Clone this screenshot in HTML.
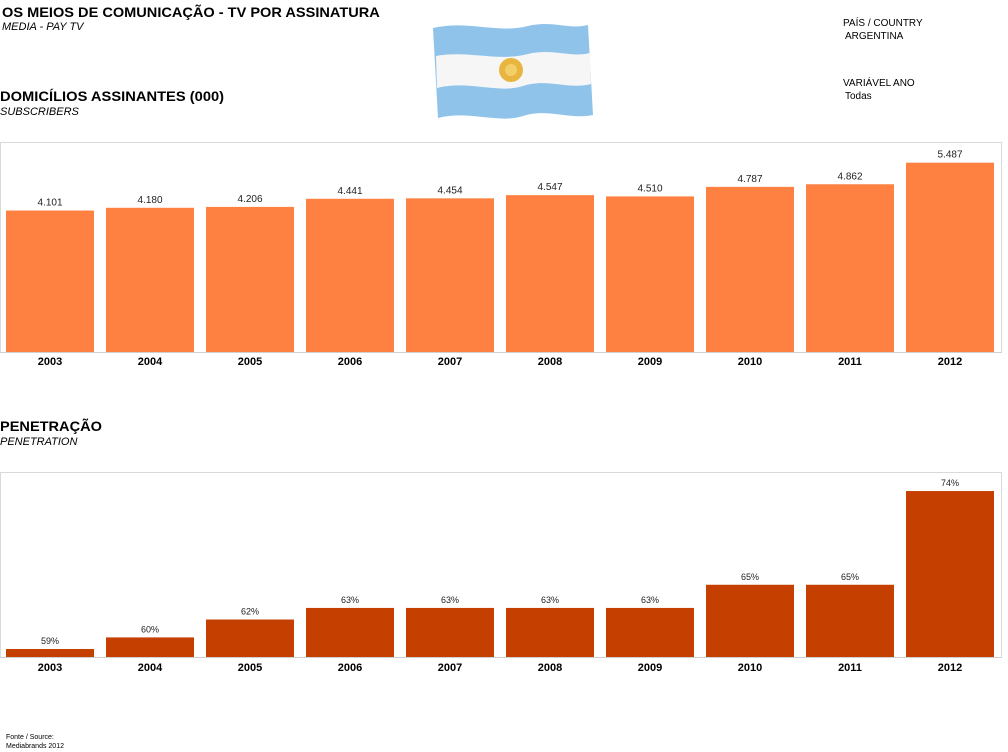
<!DOCTYPE html>
<html><head><meta charset="utf-8"><style>
body{margin:0;width:1008px;height:752px;background:#fff;font-family:"Liberation Sans","DejaVu Sans",sans-serif;overflow:hidden;position:relative}
.t{position:absolute;white-space:nowrap;color:#000}
</style></head><body>
<div class="t" style="left:2px;top:4px;font-size:14px;font-weight:bold;transform:scaleX(1.04);transform-origin:left">OS MEIOS DE COMUNICAÇÃO - TV POR ASSINATURA</div>
<div class="t" style="left:2px;top:21px;font-size:11px;font-style:italic">MEDIA - PAY TV</div>
<div class="t" style="left:0px;top:88px;font-size:14px;font-weight:bold;transform:scaleX(1.05);transform-origin:left">DOMICÍLIOS ASSINANTES (000)</div>
<div class="t" style="left:0px;top:106px;font-size:11px;font-style:italic">SUBSCRIBERS</div>
<div class="t" style="left:843px;top:18px;font-size:10px">PAÍS / COUNTRY</div>
<div class="t" style="left:845px;top:31px;font-size:10px">ARGENTINA</div>
<div class="t" style="left:843px;top:78px;font-size:10px">VARIÁVEL ANO</div>
<div class="t" style="left:845px;top:91px;font-size:10px">Todas</div>
<svg style="position:absolute;left:428px;top:20px" width="170" height="100">
<path d="M5,8 C40,0 70,14 100,6 C125,0 140,10 160,5 L165,95 C140,100 120,88 95,96 C70,104 40,90 10,98 Z" fill="#8fc3ea"/>
<path d="M8,36 C40,30 70,42 100,34 C125,28 142,38 162,33 L163,64 C140,70 120,58 95,66 C70,74 40,60 9,68 Z" fill="#f6f6f6"/>
<circle cx="83" cy="50" r="12" fill="#e8b540"/><circle cx="83" cy="50" r="6" fill="#f3cf6a"/>
</svg>
<div class="t" style="left:0px;top:418px;font-size:14px;font-weight:bold;transform:scaleX(1.04);transform-origin:left">PENETRAÇÃO</div>
<div class="t" style="left:0px;top:436px;font-size:11px;font-style:italic">PENETRATION</div>
<div class="t" style="left:6px;top:733px;font-size:7px;line-height:9px">Fonte / Source:<br>Mediabrands 2012</div>
<svg id="c" width="1008" height="752" style="position:absolute;left:0;top:0"></svg>
<script>
const years=["2003","2004","2005","2006","2007","2008","2009","2010","2011","2012"];
const subscribers=[4101,4180,4206,4441,4454,4547,4510,4787,4862,5487];
const subLabels=["4.101","4.180","4.206","4.441","4.454","4.547","4.510","4.787","4.862","5.487"];
const penetration=[59.0,60.1,61.8,62.9,62.9,62.9,62.9,65.1,65.1,74.0];
const penLabels=["59%","60%","62%","63%","63%","63%","63%","65%","65%","74%"];
const svg=document.getElementById('c');const NS="http://www.w3.org/2000/svg";
function mk(t,a){const e=document.createElementNS(NS,t);for(const k in a)e.setAttribute(k,a[k]);svg.appendChild(e);return e;}
const xb=i=>6+i*100;
function y1(v){return 352-v*0.0345;}
function y2(v){return 657-(v-58.24)*10.53;}
function frame(top,base,name){
 const r=mk('rect',{x:0.5,y:top+0.5,width:1001,height:base-top,fill:'none',stroke:'#d9d9d9'});
 
 const l=mk('line',{x1:0,x2:1002,y1:base+0.5,y2:base+0.5,stroke:'#d0d0d0'});
 
}
frame(142,352,'chart1-frame');frame(472,657,'chart2-frame');
function draw(vals,labs,yf,base,color,pfx,fs,yoff){
 vals.forEach((v,i)=>{
  const y=yf(v);
  const b=mk('rect',{x:xb(i),y:y,width:88,height:base-y,fill:color});
  
  
  const t=mk('text',{x:xb(i)+44,y:y-5,'text-anchor':'middle','font-size':fs,fill:'#222'});t.textContent=labs[i];
  
  
  const x=mk('text',{x:xb(i)+44,y:base+yoff,'text-anchor':'middle','font-size':11,'font-weight':'bold',fill:'#000'});x.textContent=years[i];
  
  
 });
}
draw(subscribers,subLabels,y1,352,'#ff8142','subscribers',10,13);
draw(penetration,penLabels,y2,657,'#c43f00','penetration',9,14);
</script>
</body></html>
